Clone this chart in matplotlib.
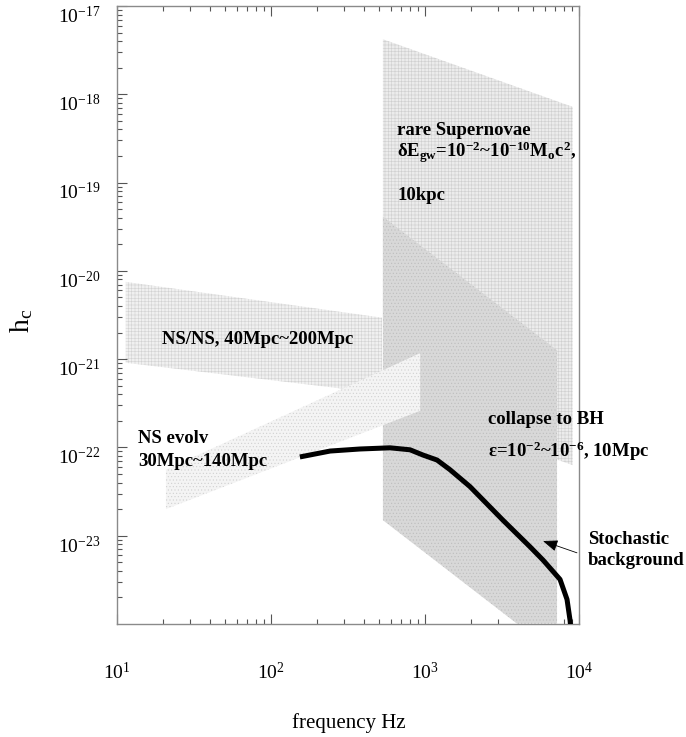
import matplotlib
matplotlib.use("Agg")
import matplotlib.pyplot as plt
import matplotlib.transforms as mtransforms
from matplotlib.ticker import FixedLocator, FixedFormatter, LogLocator, NullFormatter

plt.rcParams['font.family'] = ['Liberation Serif', 'DejaVu Serif']
plt.rcParams['mathtext.fontset'] = 'custom'
plt.rcParams['mathtext.rm'] = 'Liberation Serif'
plt.rcParams['mathtext.it'] = 'Liberation Serif:italic'
plt.rcParams['mathtext.bf'] = 'Liberation Serif:bold'
plt.rcParams['hatch.linewidth'] = 0.4

# rare supernovae band
sn_freq = [533, 9100]
sn_top = [4.2e-18, 7.2e-19]
sn_bottom = [3.7e-22, 6.3e-23]

# collapse to BH band
bh_freq = [533, 7200]
bh_top = [4.1e-20, 1.26e-21]
bh_bottom = [1.5e-23, 4.5e-25]

# NS/NS coalescence band
nsns_freq = [11.4, 525]
nsns_top = [7.5e-21, 2.95e-21]
nsns_bottom = [9.1e-22, 4.1e-22]

# NS evolution band
nsev_freq = [20.8, 930]
nsev_top = [5.6e-23, 1.17e-21]
nsev_bottom = [2.0e-23, 2.6e-22]

# stochastic background curve
bg_freq = [154, 242, 378, 593, 800, 970, 1197, 1452, 1959, 3206, 4805, 5840,
           7530, 8360, 8750, 8870]
bg_hc = [7.8e-23, 9.1e-23, 9.6e-23, 9.9e-23, 9.4e-23, 8.2e-23, 7.2e-23, 5.6e-23,
         3.6e-23, 1.5e-23, 7.5e-24, 5.3e-24, 3.2e-24, 1.9e-24, 1.1e-24, 8.5e-25]

xticks = [1e1, 1e2, 1e3, 1e4]
xticklabels = [r'$\mathregular{10^{1}}$', r'$\mathregular{10^{2}}$',
               r'$\mathregular{10^{3}}$', r'$\mathregular{10^{4}}$']
yticks = [1e-23, 1e-22, 1e-21, 1e-20, 1e-19, 1e-18, 1e-17]
yticklabels = [r'$\mathregular{10^{-23}}$', r'$\mathregular{10^{-22}}$',
               r'$\mathregular{10^{-21}}$', r'$\mathregular{10^{-20}}$',
               r'$\mathregular{10^{-19}}$', r'$\mathregular{10^{-18}}$',
               r'$\mathregular{10^{-17}}$']

fig = plt.figure(figsize=(6.86, 7.37), dpi=100)
ax = fig.add_axes([117 / 686, 1 - 624 / 737, 462 / 686, 618 / 737])
ax.set_xscale('log')
ax.set_yscale('log')
ax.set_xlim(1e1, 1e4)
ax.set_ylim(1e-24, 1e-17)

ax.fill_between(nsns_freq, nsns_bottom, nsns_top, facecolor='#f0f0f0',
                edgecolor='#d2d2d2', hatch='+++++', linewidth=0, zorder=1)
ax.fill_between(sn_freq, sn_bottom, sn_top, facecolor='#ececec',
                edgecolor='#cfcfcf', hatch='+++++', linewidth=0, zorder=2)
ax.fill_between(bh_freq, bh_bottom, bh_top, facecolor='#d8d8d8',
                edgecolor='#bdbdbd', hatch='.....', linewidth=0, zorder=3)
ax.fill_between(nsev_freq, nsev_bottom, nsev_top, facecolor='#f4f4f4',
                edgecolor='#d0d0d0', hatch='.....', linewidth=0, zorder=4)

ax.plot(bg_freq, bg_hc, color='black', linewidth=3.6, solid_capstyle='butt',
        zorder=6)

ax.annotate('', xy=(5840, 8.7e-24), xytext=(9700, 6.4e-24),
            arrowprops=dict(arrowstyle='-|>,head_length=0.9,head_width=0.35',
                            color='black', linewidth=0.6, shrinkA=0, shrinkB=0),
            zorder=7, annotation_clip=False)

bold = dict(fontsize=13.5, fontweight='bold', va='baseline', ha='left', zorder=8)
ax.text(658, 3.46e-19, 'rare Supernovae', **bold)
ax.text(658, 1.95e-19,
        r'δE$_{\mathbf{gw}}$=10$^{\mathbf{-2}}$~10$^{\mathbf{-10}}$'
        r'M$_{\mathbf{o}}$c$^{\mathbf{2}}$,', **bold)
ax.text(658, 6.35e-20, '10kpc', **bold)
ax.text(19.6, 1.49e-21, 'NS/NS, 40Mpc~200Mpc', **bold)
ax.text(13.7, 1.12e-22, 'NS evolv', **bold)
ax.text(13.7, 6.2e-23, '30Mpc~140Mpc', **bold)
ax.text(2565, 1.85e-22, 'collapse to BH', **bold)
ax.text(2565, 7.8e-23,
        r'ε=10$^{\mathbf{-2}}$~10$^{\mathbf{-6}}$, 10Mpc', **bold)
ax.text(11430, 8.1e-24, 'Stochastic', **bold)
ax.text(11430, 4.7e-24, 'background', **bold)

# axes styling
for side in ['left', 'bottom', 'top', 'right']:
    ax.spines[side].set_color('#8a8a8a')
    ax.spines[side].set_linewidth(1.0)

ax.xaxis.set_major_locator(FixedLocator(xticks))
ax.xaxis.set_major_formatter(FixedFormatter(xticklabels))
ax.yaxis.set_major_locator(FixedLocator(yticks))
ax.yaxis.set_major_formatter(FixedFormatter(yticklabels))
ax.xaxis.set_minor_locator(LogLocator(base=10, subs=range(2, 10)))
ax.yaxis.set_minor_locator(LogLocator(base=10, subs=range(2, 10), numticks=20))
ax.xaxis.set_minor_formatter(NullFormatter())
ax.yaxis.set_minor_formatter(NullFormatter())

ax.tick_params(which='both', direction='in', top=True, right=False,
               color='#555555', width=0.8)
ax.tick_params(which='major', length=7)
ax.tick_params(which='minor', length=3.5)
ax.tick_params(axis='x', which='major', pad=27, labelsize=14)
ax.tick_params(axis='y', which='major', pad=12, labelsize=14)

offset = mtransforms.ScaledTranslation(0, -6 / 72, fig.dpi_scale_trans)
for lab in ax.get_yticklabels():
    lab.set_transform(lab.get_transform() + offset)

ax.set_xlabel('frequency Hz', fontsize=15)
ax.xaxis.set_label_coords(0.502, -0.144)
ax.set_ylabel(r'h$_\mathregular{c}$', fontsize=20)
ax.yaxis.set_label_coords(-0.178, 0.49)

fig.savefig('out.png', dpi=100)
